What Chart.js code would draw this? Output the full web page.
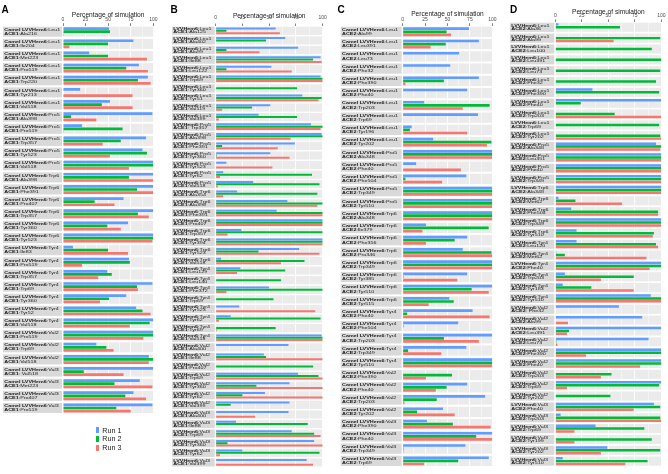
<!DOCTYPE html>
<html>
<head>
<meta charset="utf-8">
<title>Percentage of simulation</title>
<script src="https://cdn.jsdelivr.net/npm/chart.js@4.4.1/dist/chart.umd.min.js"></script>
<style>
  body { margin: 0; background: #fff; }
  #wrap { position: relative; width: 668px; height: 474px; overflow: hidden; font-family: "Liberation Sans", Arial, sans-serif; }
  #wrap canvas { position: absolute; top: 0; }
  .tag { position: absolute; top: 5px; font-size: 10px; line-height: 10px; font-weight: bold; color: #000; }
  .key { position: absolute; width: 3px; height: 6px; }
  .run { position: absolute; font-size: 7.2px; line-height: 9px; color: #1a1a1a; white-space: nowrap; }
</style>
</head>
<body>
<div id="wrap"></div>
<script>
const runNames = ['Run 1', 'Run 2', 'Run 3'];
const runColors = ['#619CFF', '#00BA38', '#F8766D'];

// A: Camel LVVHem6 / ACE1
const aHem = ['Leu1','Leu1','Leu1','Leu1','Leu1','Leu1','Leu1','Pro5','Pro5','Pro5','Pro5','Pro5',
  'Trp6','Trp6','Trp6','Trp6','Trp6','Trp6','Tyr4','Tyr4','Tyr4','Tyr4','Tyr4','Tyr4','Tyr4',
  'Val2','Val2','Val2','Val3','Val3','Val3','Val3'];
const aSite = ['Ala216','Ile204','Met223','Pro519','Trp220','Tyr213','Val518','Ala398','Pro519','Trp357','Tyr523','Val518',
  'Ala398','Phe391','Pro407','Trp357','Tyr360','Tyr523','Ile83','Pro519','Trp357','Trp69','Tyr360','Tyr52','Val518',
  'Pro519','Trp69','Val518',' Val518','Met223','Pro407','Pro519'];
const aRun1 = [51,78,29,84,94,19,52, 99,21,92,88,100, 100,100,67,100,72,100, 11,73,49,99,70,81,100, 100,37,95, 100,85,78,99];
const aRun2 = [52,50,50,70,83,0,43, 9,66,64,93,100, 73,82,35,83,49,100, 50,74,54,82,51,88,96, 100,48,100, 23,57,69,59];
const aRun3 = [1,7,93,94,97,77,77, 37,1,44,52,73, 100,100,57,95,64,99, 72,21,39,83,41,97,74, 89,56,95, 67,99,92,75];

// B: LVVHem6 / ACE1
const bHem = ['Leu1','Leu1','Leu1','Leu1','Leu1','Leu1','Leu1','Leu1','Leu1','Leu1',
  'Pro5','Pro5','Pro5','Pro5','Pro5','Pro5','Pro5',
  'Trp6','Trp6','Trp6','Trp6','Trp6','Trp6','Trp6','Trp6',
  'Tyr4','Tyr4','Tyr4','Tyr4','Tyr4','Tyr4','Tyr4','Tyr4',
  'Val2','Val2','Val2','Val2','Val2','Val2','Val2',
  'Val3','Val3','Val3','Val3','Val3','Val3'];
const bSite = ['Ala125','Ala402','Ala99','Ile88','Leu122','Trp69','Tyr360','Tyr51','Val119','Val399',
  ' Trp357','Ala398','Phe391','Tyr360','Tyr523','Tyr62','Val518',
  'Ala354','Ala398','Phe391','Pro407','Trp357','Tyr394','Tyr523','Val518',
  'Leu129','Leu140','Phe372','Trp69','Tyr523','Tyr62','Tyr69','Val518',
  'Ala400','Ile88','Pro407','Trp69','Tyr360','Tyr62','Val399',
  'Ala400','Ile88','Trp69','Tyr360','Tyr62','Val399'];
const bRun1 = [56,65,77,98,52,98,0,81,51,40, 89,99,74,51,10,7,35, 20,67,57,100,24,100,78,5, 23,0,50,0,22,14,0,99, 68,45,0,77,69,46,69, 68,19,71,92,25,85];
const bRun2 = [10,47,10,91,10,100,76,99,34,76, 100,100,6,1,0,90,97, 95,100,100,100,100,100,40,83, 65,61,100,54,0,98,56,100, 0,47,91,96,38,25,14, 0,86,92,11,97,0];
const bRun3 = [60,0,41,99,71,100,0,96,6,3, 98,70,58,69,53,4,2, 7,95,100,100,11,100,97,61, 20,0,10,0,93,3,1,100, 0,100,0,100,100,100,0, 37,0,98,100,4,91];

// C: Camel LVVHem6 / ACE2
const cHem = ['Leu1','Leu1','Leu1','Leu1','Leu1','Leu1','Leu1','Leu1','Leu1','Leu1',
  'Pro5','Pro5','Pro5','Pro5','Pro5',
  'Trp6','Trp6','Trp6','Trp6','Trp6','Trp6','Trp6','Trp6',
  'Tyr4','Tyr4','Tyr4','Tyr4','Tyr4',
  'Val2','Val2','Val2','Val2','Val3','Val3','Val3','Val3'];
const cSite = ['Ala99','Leu391','Leu73','Phe32','Phe390','Phe40','Trp203','Trp69','Tyr196','Tyr202',
  'Ala348','Phe40','Phe504','Trp349','Tyr510',
  'Ala348','Ile379','Phe356','Pro346','Trp349','Tyr385','Tyr510','Tyr515',
  'Phe40','Phe504','Trp203','Trp349','Tyr510',
  'Phe390','Phe40','Trp203','Tyr202','Phe390','Phe40','Trp349','Trp69'];
const cRun1 = [74,85,63,53,85,72,24,84,10,34, 100,15,71,100,100, 100,26,72,67,100,72,100,52, 78,62,100,71,100, 0,72,92,45, 27,100,70,96];
const cRun2 = [49,48,0,0,46,0,97,0,8,99, 100,0,3,100,100, 100,96,58,99,100,1,77,57, 5,1,46,6,100, 55,49,38,16, 56,82,1,62];
const cRun3 = [54,31,0,0,3,0,67,0,72,94, 100,65,44,100,100, 100,22,26,100,100,61,96,29, 97,0,85,43,100, 26,37,2,58, 98,100,1,24];

// D: LVVHem6 / ACE2
const dHem = ['Leu1','Leu1','Leu1','Leu1','Leu1','Leu1','Leu1','Leu1','Leu1','Leu1','Leu1',
  'Pro5','Pro5','Pro5','Pro5','Trp6','Trp6','Trp6','Trp6','Trp6',
  'Tyr4','Tyr4','Tyr4','Tyr4','Tyr4','Tyr4',
  'Val2','Val2','Val2','Val2','Val2','Val2','Val2','Val2','Val2',
  'Val3','Val3','Val3','Val3','Val3','Val3'];
const dSite = ['Ala36','Ala99','Leu100','Leu391','Leu73','Phe32','Phe390','Phe40','Trp203','Trp69','Tyr202',
  'Ala348','Leu351','Phe40','Trp349','Ala348','Met62','Phe504','Trp349','Tyr510',
  'Leu120','Met62','Phe40','Trp203','Tyr183','Tyr510',
  ' Phe32','Ala99','Leu391','Leu73','Phe390','Phe40','Trp203','Trp69','Tyr202',
  'Phe40','Trp203','Trp69','Tyr199','Tyr202','Tyr510'];
const dRun1 = [3,0,0,0,0,0,35,100,0,0,0, 95,100,100,100, 100,3,15,100,20, 20,1,100,9,7,90, 60,82,100,88,100,100,0,100,0, 93,5,38,0,49,7];
const dRun2 = [61,99,91,100,99,95,98,24,56,98,99, 100,100,100,100, 100,19,97,100,93, 95,9,100,74,34,100, 0,0,13,1,100,100,53,98,52, 99,99,84,91,99,87];
const dRun3 = [0,55,0,0,0,0,0,0,100,0,100, 99,100,100,100, 100,63,97,100,92, 97,86,89,43,74,100, 0,12,11,2,29,80,43,11,0, 74,100,18,18,43,66];

const panels = [
  {tag: 'A', prefix: 'Camel LVVHem6', receptor: 'ACE1', hem: aHem, site: aSite, runs: [aRun1, aRun2, aRun3],
   left: 0, width: 165, stripLeft: 3, plotLeft: 63, plotRight: 153.3, firstTop: 26.7, lastBottom: 413, gap: 2.1,
   titleY: 15, tickPad: 1, cat: 0.77, bar: 0.87, lineOff: 2.0, squash: 0.8, tagX: 1.5},
  {tag: 'B', prefix: 'LVVHem6', receptor: 'ACE1', hem: bHem, site: bSite, runs: [bRun1, bRun2, bRun3],
   left: 165, width: 165, stripLeft: 7, plotLeft: 50.7, plotRight: 157.7, firstTop: 26.7, lastBottom: 466.5, gap: 1.4,
   titleY: 16.3, tickPad: 3, cat: 0.73, bar: 0.86, lineOff: 1.5, squash: 0.7, tagX: 170.5},
  {tag: 'C', prefix: 'Camel LVVHem6', receptor: 'ACE2', hem: cHem, site: cSite, runs: [cRun1, cRun2, cRun3],
   left: 330, width: 168, stripLeft: 10.7, plotLeft: 72.7, plotRight: 162.3, firstTop: 26.7, lastBottom: 466, gap: 2,
   titleY: 14.5, tickPad: 1, cat: 0.76, bar: 0.87, lineOff: 2.1, squash: 0.8, tagX: 337.5},
  {tag: 'D', prefix: 'LVVHem6', receptor: 'ACE2', hem: dHem, site: dSite, runs: [dRun1, dRun2, dRun3],
   left: 498, width: 170, stripLeft: 12, plotLeft: 57.3, plotRight: 163.3, firstTop: 22.7, lastBottom: 465.7, gap: 1.7,
   titleY: 12, tickPad: 1, cat: 0.80, bar: 0.86, lineOff: 1.6, squash: 0.72, tagX: 510}
];

const FONT = '"Liberation Sans", Arial, sans-serif';

// one strip line: bold part before the colon, plain part after it
function drawRich(ctx, text, x, y, size) {
  const k = text.indexOf(':');
  const head = text.slice(0, k), tail = text.slice(k);
  ctx.font = 'bold ' + size + 'px ' + FONT;
  ctx.fillText(head, x, y);
  const w = ctx.measureText(head).width;
  ctx.font = size + 'px ' + FONT;
  ctx.fillText(tail, x + w, y);
}

// grey facet rows and label strips, drawn under the grid and bars
const stripPlugin = {
  id: 'strips',
  beforeDraw(chart, args, opts) {
    const {ctx, chartArea} = chart;
    const yScale = chart.scales.y;
    const n = chart.data.labels.length;
    const pitch = (chartArea.bottom - chartArea.top) / n;
    const h = pitch - opts.gap;
    ctx.save();
    chart.data.labels.forEach((lab, i) => {
      const cy = yScale.getPixelForValue(i);
      ctx.fillStyle = '#EBEBEB';
      ctx.fillRect(chartArea.left, cy - h / 2, chartArea.right - chartArea.left, h);
      ctx.fillStyle = '#D9D9D9';
      ctx.fillRect(opts.stripLeft, cy - h / 2, chartArea.left - 1 - opts.stripLeft, h);
      ctx.save();
      ctx.translate(opts.stripLeft + 1.3, cy);
      ctx.scale(1, opts.squash);
      ctx.fillStyle = '#1A1A1A';
      ctx.textBaseline = 'middle';
      ctx.textAlign = 'left';
      drawRich(ctx, lab[0], 0, -opts.lineOff / opts.squash, 5.4);
      drawRich(ctx, lab[1], 0, opts.lineOff / opts.squash, 5.4);
      ctx.restore();
    });
    ctx.restore();
  }
};

const wrap = document.getElementById('wrap');

panels.forEach(p => {
  const canvas = document.createElement('canvas');
  canvas.width = p.width;
  canvas.height = 474;
  canvas.style.left = p.left + 'px';
  wrap.appendChild(canvas);

  const tag = document.createElement('div');
  tag.className = 'tag';
  tag.style.left = p.tagX + 'px';
  tag.textContent = p.tag;
  wrap.appendChild(tag);

  const plotTop = p.firstTop - p.gap / 2;
  const plotBottom = p.lastBottom + p.gap / 2;
  const labels = p.hem.map((h, i) => [p.prefix + ':' + h, p.receptor + ':' + p.site[i]]);
  const isMajor = v => v % 25 === 0;

  new Chart(canvas, {
    type: 'bar',
    data: {
      labels: labels,
      datasets: p.runs.map((r, k) => ({
        label: runNames[k],
        data: r,
        backgroundColor: runColors[k],
        borderWidth: 0,
        categoryPercentage: p.cat,
        barPercentage: p.bar
      }))
    },
    options: {
      indexAxis: 'y',
      responsive: false,
      animation: false,
      layout: {padding: {left: 0, top: 0, right: p.width - p.plotRight, bottom: 474 - plotBottom}},
      plugins: {
        legend: {display: false},
        tooltip: {enabled: false},
        strips: {gap: p.gap, stripLeft: p.stripLeft, lineOff: p.lineOff, squash: p.squash}
      },
      scales: {
        x: {
          position: 'top',
          min: 0,
          max: 100,
          border: {display: false},
          grid: {
            color: '#FFFFFF',
            lineWidth: c => (c.tick && isMajor(c.tick.value)) ? 0.9 : 0.45,
            tickColor: c => (c.tick && isMajor(c.tick.value)) ? '#333333' : 'rgba(0,0,0,0)',
            tickLength: 2.5,
            tickWidth: 0.6
          },
          ticks: {
            stepSize: 12.5,
            autoSkip: false,
            maxRotation: 0,
            padding: p.tickPad,
            color: '#4D4D4D',
            font: {family: FONT, size: 5},
            callback: v => isMajor(v) ? String(v) : ''
          },
          title: {
            display: true,
            text: 'Percentage of simulation',
            color: '#1A1A1A',
            font: {family: FONT, size: 6.6},
            padding: {top: p.titleY - 3.96, bottom: 0}
          },
          afterFit: s => { s.height = plotTop; }
        },
        y: {
          ticks: {display: false},
          grid: {display: false},
          border: {display: false},
          afterFit: s => { s.width = p.plotLeft; }
        }
      }
    },
    plugins: [stripPlugin]
  });
});

// shared legend under panel A
const legendTop = [430, 438.7, 447.7];
runNames.forEach((name, k) => {
  const key = document.createElement('div');
  key.className = 'key';
  key.style.left = '95.7px';
  key.style.top = (legendTop[k] - 3) + 'px';
  key.style.background = runColors[k];
  wrap.appendChild(key);
  const txt = document.createElement('div');
  txt.className = 'run';
  txt.style.left = '102.3px';
  txt.style.top = (legendTop[k] - 4.5) + 'px';
  txt.textContent = name;
  wrap.appendChild(txt);
});
</script>
</body>
</html>
